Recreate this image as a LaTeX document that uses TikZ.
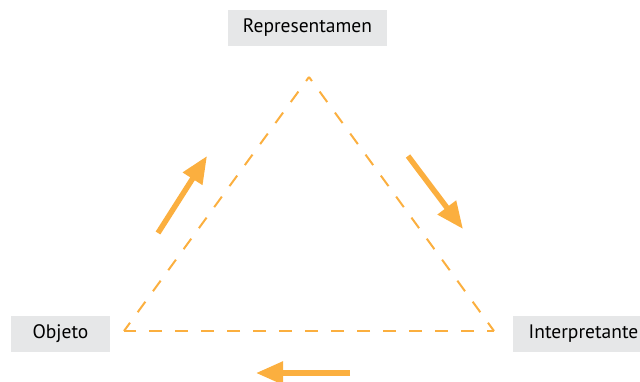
\documentclass[tikz,border=0pt]{standalone}
\usepackage{fontspec}
\setmainfont{PT Sans}
\usetikzlibrary{arrows.meta}
\definecolor{orng}{HTML}{FBAF3F}
\definecolor{boxgray}{HTML}{E6E7E8}
\tikzset{
  label box/.style={fill=boxgray, inner sep=0pt, minimum height=36pt, font=\fontsize{19.5}{22}\selectfont, text=black},
  tri line/.style={draw=orng, line width=2pt, dash pattern=on 13pt off 13pt},
  flow arrow/.style={draw=orng, line width=5.5pt, -{Triangle[length=27pt,width=22pt]}}
}
\begin{document}
\begin{tikzpicture}[x=1pt,y=-1pt]
\useasboundingbox (0,0) rectangle (640,381);
\node[label box, minimum width=159pt] (rep) at (307.5,28) {Representamen};
\node[label box, minimum width=99pt] (obj) at (60.5,334) {Objeto};
\node[label box, minimum width=140pt, anchor=west, text width=135pt, align=left] (int) at (513,334) {\hspace*{13pt}Interpretante};
\coordinate (apex) at (309,77);
\coordinate (left) at (124,331);
\coordinate (right) at (494,331);
\draw[tri line, dash phase=8pt] (apex) -- (right);
\draw[tri line, dash phase=8pt] (apex) -- (left);
\draw[tri line, dash phase=6pt] (right) -- (left);
\coordinate (a1s) at (158,233);
\coordinate (a1e) at (207,156);
\coordinate (a2s) at (408,156);
\coordinate (a2e) at (463,229);
\coordinate (a3s) at (350,373);
\coordinate (a3e) at (256,373);
\draw[flow arrow] (a1s) -- (a1e);
\draw[flow arrow] (a2s) -- (a2e);
\draw[flow arrow] (a3s) -- (a3e);
\end{tikzpicture}
\end{document}
